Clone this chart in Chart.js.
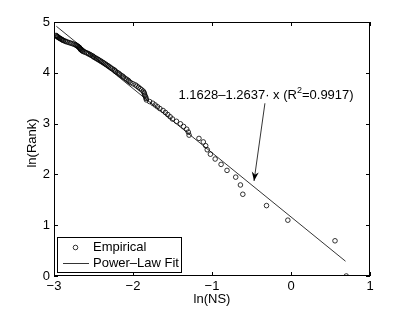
<!DOCTYPE html>
<html>
<head>
<meta charset="utf-8">
<script src="https://cdn.jsdelivr.net/npm/chart.js@4.4.0/dist/chart.umd.min.js"></script>
<style>
  html, body { margin: 0; padding: 0; background: #ffffff; }
  canvas { display: block; }
</style>
</head>
<body>
<canvas id="rankChart" width="409" height="311"></canvas>
<script>
// ln(NS) per rank (rank 1 first)
const lnNS = [
  0.70, 0.557, -0.04, -0.31, -0.61, -0.64, -0.70, -0.81, -0.885, -0.96,
  -1.02, -1.06, -1.08, -1.11, -1.165, -1.29, -1.30, -1.32, -1.36, -1.40,
  -1.45, -1.50, -1.53, -1.56, -1.59, -1.62, -1.66, -1.69, -1.72, -1.75,
  -1.79, -1.83, -1.835, -1.84, -1.85, -1.855, -1.86, -1.87, -1.89, -1.91,
  -1.93, -1.95, -1.97, -2.00, -2.03, -2.05, -2.06, -2.08, -2.10, -2.12,
  -2.13, -2.15, -2.17, -2.18, -2.20, -2.22, -2.23, -2.24, -2.26, -2.28,
  -2.29, -2.31, -2.32, -2.34, -2.35, -2.37, -2.38, -2.40, -2.41, -2.43,
  -2.44, -2.46, -2.47, -2.49, -2.50, -2.51, -2.53, -2.54, -2.56, -2.57,
  -2.59, -2.61, -2.63, -2.64, -2.65, -2.66, -2.665, -2.67, -2.675, -2.68,
  -2.69, -2.70, -2.71, -2.72, -2.73, -2.75, -2.77, -2.79, -2.81, -2.83,
  -2.85, -2.86, -2.88, -2.89, -2.90, -2.91, -2.92, -2.93, -2.94, -2.95,
  -2.955, -2.96, -2.97, -2.975
];

// ln(Rank) for ranks 1..114
const lnRank = [
  0, 0.693, 1.099, 1.386, 1.609, 1.792, 1.946, 2.079, 2.197, 2.303,
  2.398, 2.485, 2.565, 2.639, 2.708, 2.773, 2.833, 2.890, 2.944, 2.996,
  3.045, 3.091, 3.135, 3.178, 3.219, 3.258, 3.296, 3.332, 3.367, 3.401,
  3.434, 3.466, 3.497, 3.526, 3.555, 3.584, 3.611, 3.638, 3.664, 3.689,
  3.714, 3.738, 3.761, 3.784, 3.807, 3.829, 3.850, 3.871, 3.892, 3.912,
  3.932, 3.951, 3.970, 3.989, 4.007, 4.025, 4.043, 4.060, 4.078, 4.094,
  4.111, 4.127, 4.143, 4.159, 4.174, 4.190, 4.205, 4.220, 4.234, 4.248,
  4.263, 4.277, 4.290, 4.304, 4.317, 4.331, 4.344, 4.357, 4.369, 4.382,
  4.394, 4.407, 4.419, 4.431, 4.443, 4.454, 4.466, 4.477, 4.489, 4.500,
  4.511, 4.522, 4.533, 4.543, 4.554, 4.564, 4.575, 4.585, 4.595, 4.605,
  4.615, 4.625, 4.635, 4.644, 4.654, 4.663, 4.673, 4.682, 4.691, 4.700,
  4.710, 4.718, 4.727, 4.736
];

// fitted line end points: 1.1628 - 1.2637 x
const fitX = [-2.97, 0.69];
const fitY = [4.916, 0.291];

const xTicks = [-3, -2, -1, 0, 1];
const yTicks = [0, 1, 2, 3, 4, 5];

const FONT = '"Liberation Sans", Arial, Helvetica, sans-serif';

// MATLAB style minus sign on tick labels
function tickLabel(value) {
  return value < 0 ? '\u2212' + Math.abs(value) : String(value);
}

// box, inward ticks, axis titles, annotation and legend (MATLAB look)
const matlabFrame = {
  id: 'matlabFrame',
  afterDraw(chart) {
    const ctx = chart.ctx;
    const a = chart.chartArea;
    const xs = chart.scales.x;
    const ys = chart.scales.y;
    ctx.save();
    ctx.strokeStyle = '#000';
    ctx.fillStyle = '#000';
    ctx.lineWidth = 1;
    ctx.strokeRect(a.left + 0.5, a.top + 0.5, a.right - a.left - 1, a.bottom - a.top - 1);

    const tl = 4;
    ctx.beginPath();
    xTicks.forEach(v => {
      const px = Math.round(xs.getPixelForValue(v)) + 0.5;
      ctx.moveTo(px, a.bottom); ctx.lineTo(px, a.bottom - tl);
      ctx.moveTo(px, a.top); ctx.lineTo(px, a.top + tl);
    });
    yTicks.forEach(v => {
      const py = Math.round(ys.getPixelForValue(v)) + 0.5;
      ctx.moveTo(a.left, py); ctx.lineTo(a.left + tl, py);
      ctx.moveTo(a.right, py); ctx.lineTo(a.right - tl, py);
    });
    ctx.stroke();

    // axis titles
    ctx.font = '13px ' + FONT;
    ctx.textAlign = 'center';
    ctx.textBaseline = 'middle';
    ctx.fillText('ln(NS)', (a.left + a.right) / 2, 299);
    ctx.save();
    ctx.translate(32, 143);
    ctx.rotate(-Math.PI / 2);
    ctx.fillText('ln(Rank)', 0, 0);
    ctx.restore();

    // annotation text with superscript
    const t1 = '1.1628\u20131.2637\u00b7 x (R';
    const t2 = '2';
    const t3 = '=0.9917)';
    ctx.font = '13px ' + FONT;
    const w1 = ctx.measureText(t1).width;
    const w3 = ctx.measureText(t3).width;
    ctx.font = '9px ' + FONT;
    const w2 = ctx.measureText(t2).width;
    const cx = xs.getPixelForValue(-0.316);
    const cy = ys.getPixelForValue(3.56);
    let sx = cx - (w1 + w2 + w3) / 2;
    ctx.textAlign = 'left';
    ctx.font = '13px ' + FONT;
    ctx.fillText(t1, sx, cy);
    ctx.font = '9px ' + FONT;
    ctx.fillText(t2, sx + w1, cy - 5);
    ctx.font = '13px ' + FONT;
    ctx.fillText(t3, sx + w1 + w2, cy);

    // arrow
    const ax0 = xs.getPixelForValue(-0.33), ay0 = ys.getPixelForValue(3.40);
    const ax1 = xs.getPixelForValue(-0.468), ay1 = ys.getPixelForValue(1.87);
    ctx.lineWidth = 0.8;
    ctx.beginPath();
    ctx.moveTo(ax0, ay0); ctx.lineTo(ax1, ay1);
    ctx.stroke();
    const ang = Math.atan2(ay1 - ay0, ax1 - ax0);
    const hl = 9, hw = 3.5;
    ctx.beginPath();
    ctx.moveTo(ax1, ay1);
    ctx.lineTo(ax1 - hl * Math.cos(ang) + hw * Math.sin(ang), ay1 - hl * Math.sin(ang) - hw * Math.cos(ang));
    ctx.lineTo(ax1 - hl * 0.7 * Math.cos(ang), ay1 - hl * 0.7 * Math.sin(ang));
    ctx.lineTo(ax1 - hl * Math.cos(ang) - hw * Math.sin(ang), ay1 - hl * Math.sin(ang) + hw * Math.cos(ang));
    ctx.closePath();
    ctx.fill();

    // legend
    ctx.fillStyle = '#fff';
    ctx.fillRect(57, 237, 124, 35);
    ctx.strokeStyle = '#000';
    ctx.lineWidth = 1;
    ctx.strokeRect(57.5, 237.5, 124, 35);
    ctx.fillStyle = '#000';
    ctx.lineWidth = 0.8;
    ctx.beginPath();
    ctx.arc(75.5, 247.5, 2.3, 0, Math.PI * 2);
    ctx.stroke();
    ctx.beginPath();
    ctx.moveTo(63, 263.5); ctx.lineTo(89, 263.5);
    ctx.stroke();
    ctx.font = '13px ' + FONT;
    ctx.textAlign = 'left';
    ctx.fillText('Empirical', 93, 247.5);
    ctx.fillText('Power\u2013Law Fit', 93, 263.5);
    ctx.restore();
  }
};

new Chart(document.getElementById('rankChart'), {
  type: 'scatter',
  data: {
    datasets: [
      {
        label: 'Empirical',
        data: lnNS.map((x, i) => ({ x: x, y: lnRank[i] })),
        showLine: false,
        pointStyle: 'circle',
        pointRadius: 2.3,
        pointBorderWidth: 0.8,
        pointBorderColor: '#000',
        pointBackgroundColor: 'rgba(0,0,0,0)'
      },
      {
        label: 'Power\u2013Law Fit',
        data: fitX.map((x, i) => ({ x: x, y: fitY[i] })),
        showLine: true,
        borderColor: '#000',
        borderWidth: 0.8,
        pointRadius: 0,
        fill: false
      }
    ]
  },
  options: {
    responsive: false,
    animation: false,
    devicePixelRatio: 1,
    layout: { padding: { left: 0, right: 39, top: 22, bottom: 0 } },
    plugins: {
      legend: { display: false },
      tooltip: { enabled: false }
    },
    scales: {
      x: {
        type: 'linear',
        min: -3,
        max: 1,
        afterFit(scale) { scale.height = 35; },
        grid: { display: false, drawTicks: false },
        border: { display: false },
        ticks: {
          stepSize: 1,
          padding: 3,
          color: '#000',
          font: { family: FONT, size: 13 },
          callback: tickLabel
        }
      },
      y: {
        type: 'linear',
        min: 0,
        max: 5,
        afterFit(scale) { scale.width = 54; },
        grid: { display: false, drawTicks: false },
        border: { display: false },
        ticks: {
          stepSize: 1,
          padding: 4,
          color: '#000',
          font: { family: FONT, size: 13 },
          callback: tickLabel
        }
      }
    }
  },
  plugins: [matlabFrame]
});
</script>
</body>
</html>
